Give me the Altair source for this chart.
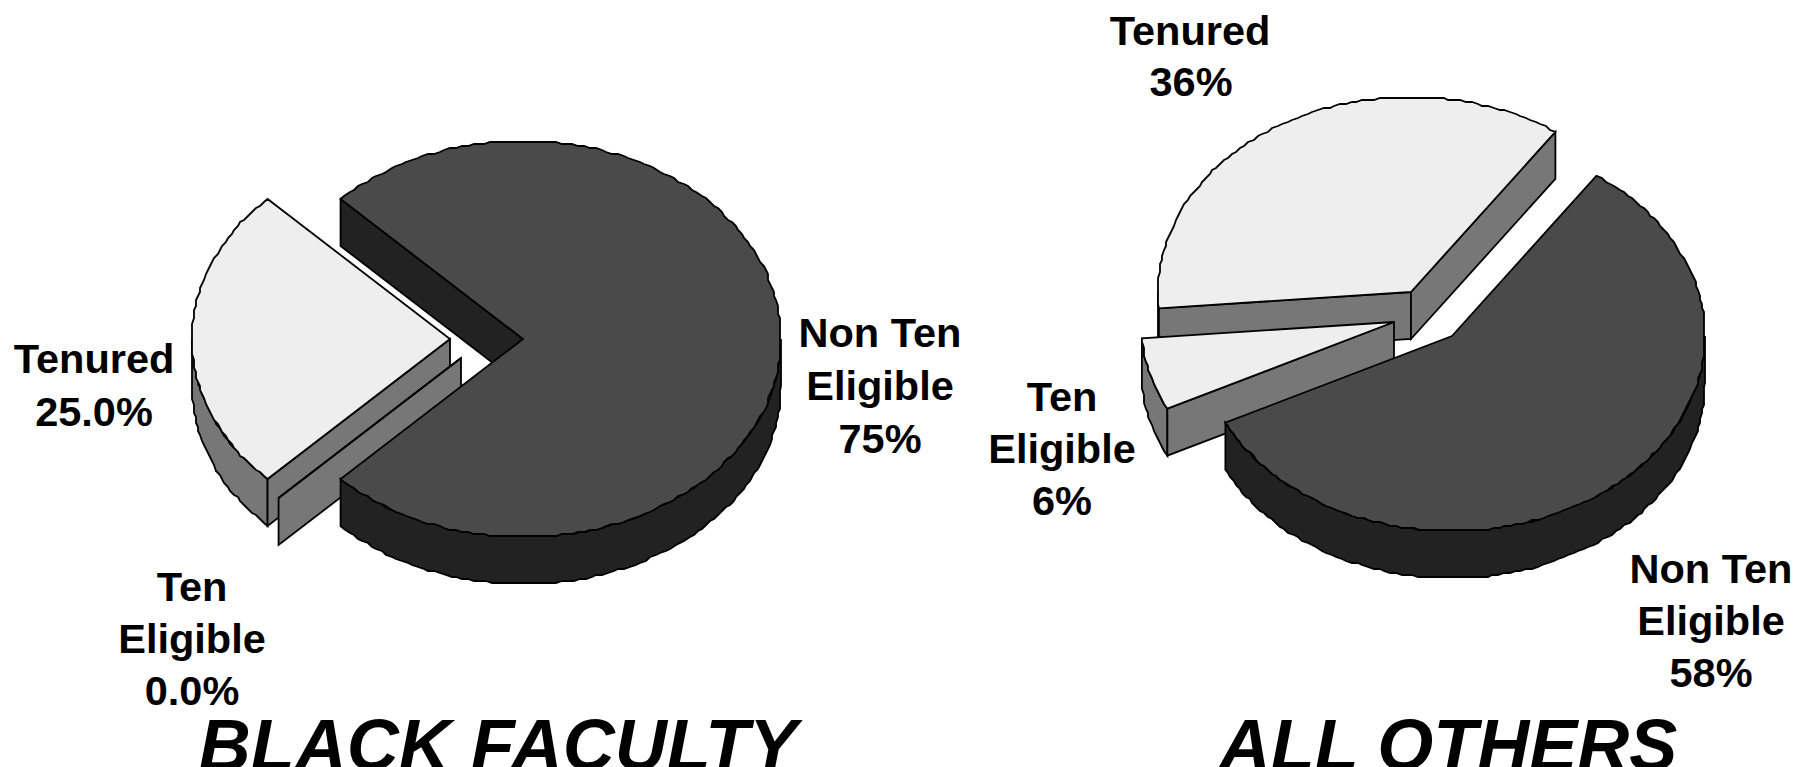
import numpy as np
import altair as alt

W, H = 1784, 759
categories = ["Non Ten Eligible", "Ten Eligible", "Tenured"]
black_values = [75, 0, 25]
other_values = [58, 6, 36]
black_layout = dict(cx=523, cy=339, rx=258, ry=198, depth=47, start=-135,
                    offsets=[(0, 0), (-62, 19), (-73, 0)])
other_layout = dict(cx=1452, cy=336, rx=253, ry=195, depth=47, start=-55.2,
                    offsets=[(0, 0), (-58, -14), (-41, -44)])
top_tone = {"Non Ten Eligible": "dark top", "Ten Eligible": "light top", "Tenured": "light top"}
side_tone = {"Non Ten Eligible": "dark side", "Ten Eligible": "mid side", "Tenured": "mid side"}
tones = ["light top", "mid side", "dark top", "dark side"]
tone_colors = ["#EEEEEE", "#777777", "#4A4A4A", "#222222"]

labels = ["Tenured", "25.0%", "Non Ten", "Eligible", "75%", "Ten", "Eligible", "0.0%",
          "Tenured", "36%", "Ten", "Eligible", "6%", "Non Ten", "Eligible", "58%"]
label_x = [94, 94, 880, 880, 880, 192, 192, 192, 1190, 1191, 1062, 1062, 1062, 1711, 1711, 1711]
label_y = [361, 414, 335, 388, 441, 589, 641, 693, 33, 84, 399, 451, 503, 571, 623, 675]
titles = ["BLACK FACULTY", "ALL OTHERS"]
title_x = [498, 1448]
title_y = [770, 770]


def rough(points, grid=2.0):
    return [[float(np.round(x / grid) * grid), float(np.round(y / grid) * grid)] for x, y in points]


def feature(ring, tone):
    ring = [[p[0] - 8, p[1] - 8] for p in ring]
    ring = ring + [ring[0]]
    return {"type": "Feature", "properties": {"tone": tone},
            "geometry": {"type": "Polygon", "coordinates": [ring]}}


def pie_features(values, lay):
    groups = []
    t = lay["start"]
    for cat, val, (dx, dy) in zip(categories, values, lay["offsets"]):
        feats = []
        t1, t2 = t, t + val * 3.6
        t = t2
        ax, ay = lay["cx"] + dx, lay["cy"] + dy
        d = lay["depth"]

        def arc(a, b):
            n = max(int(abs(b - a) / 1.3), 1)
            s = np.radians(np.linspace(a, b, n + 1))
            pts = [(ax + lay["rx"] * np.cos(v), ay + lay["ry"] * np.sin(v)) for v in s]
            mid = rough(pts[1:-1])
            return [list(pts[0])] + mid + [list(pts[-1])]

        # outer rim: the parts that face the viewer
        for k in (-360, 0, 360):
            a, b = max(t1, k), min(t2, k + 180)
            if b > a:
                top = arc(a, b)
                feats.append(feature(top + [[x, y + d] for x, y in reversed(top)], side_tone[cat]))
        # radial cut faces
        for ang, seen in ((t1, np.cos(np.radians(t1)) < 0), (t2, np.cos(np.radians(t2)) > 0)):
            if seen:
                tip = [ax + lay["rx"] * np.cos(np.radians(ang)), ay + lay["ry"] * np.sin(np.radians(ang))]
                feats.append(feature([[ax, ay], tip, [tip[0], tip[1] + d], [ax, ay + d]], side_tone[cat]))
        feats.append(feature([[ax, ay]] + arc(t1, t2), top_tone[cat]))
        groups.append(feats)
    # painted back to front: Tenured, Ten Eligible, then Non Ten Eligible
    return [f for feats in reversed(groups) for f in feats]


features = pie_features(black_values, black_layout) + pie_features(other_values, other_layout)

pies = alt.Chart(alt.Data(values=features)).mark_geoshape(
    stroke="black", strokeWidth=1.8, strokeJoin="miter"
).encode(
    fill=alt.Fill("properties.tone:N", scale=alt.Scale(domain=tones, range=tone_colors), legend=None)
).project(type="identity", scale=1, translate=[0, 0])

label_table = [{"t": a, "x": b - 8, "y": c - 8} for a, b, c in zip(labels, label_x, label_y)]
text = alt.Chart(alt.Data(values=label_table)).mark_text(
    font="Liberation Sans", fontWeight="bold", fontSize=41.5, align="center", baseline="middle", color="black"
).encode(
    x=alt.X("x:Q", scale=None, axis=None), y=alt.Y("y:Q", scale=None, axis=None), text="t:N"
)

title_table = [{"t": a, "x": b - 8, "y": c - 8} for a, b, c in zip(titles, title_x, title_y)]
title = alt.Chart(alt.Data(values=title_table)).mark_text(
    font="Liberation Sans", fontWeight="bold", fontStyle="italic", fontSize=72,
    align="center", baseline="alphabetic", color="black"
).encode(
    x=alt.X("x:Q", scale=None, axis=None), y=alt.Y("y:Q", scale=None, axis=None), text="t:N"
)

chart = alt.layer(pies, text, title).properties(
    width=W, height=H, padding=0, autosize=alt.AutoSizeParams(type="none"),
    background="white"
).configure_view(stroke=None)

chart.save("out.html", embed_options={"renderer": "svg", "actions": False})
